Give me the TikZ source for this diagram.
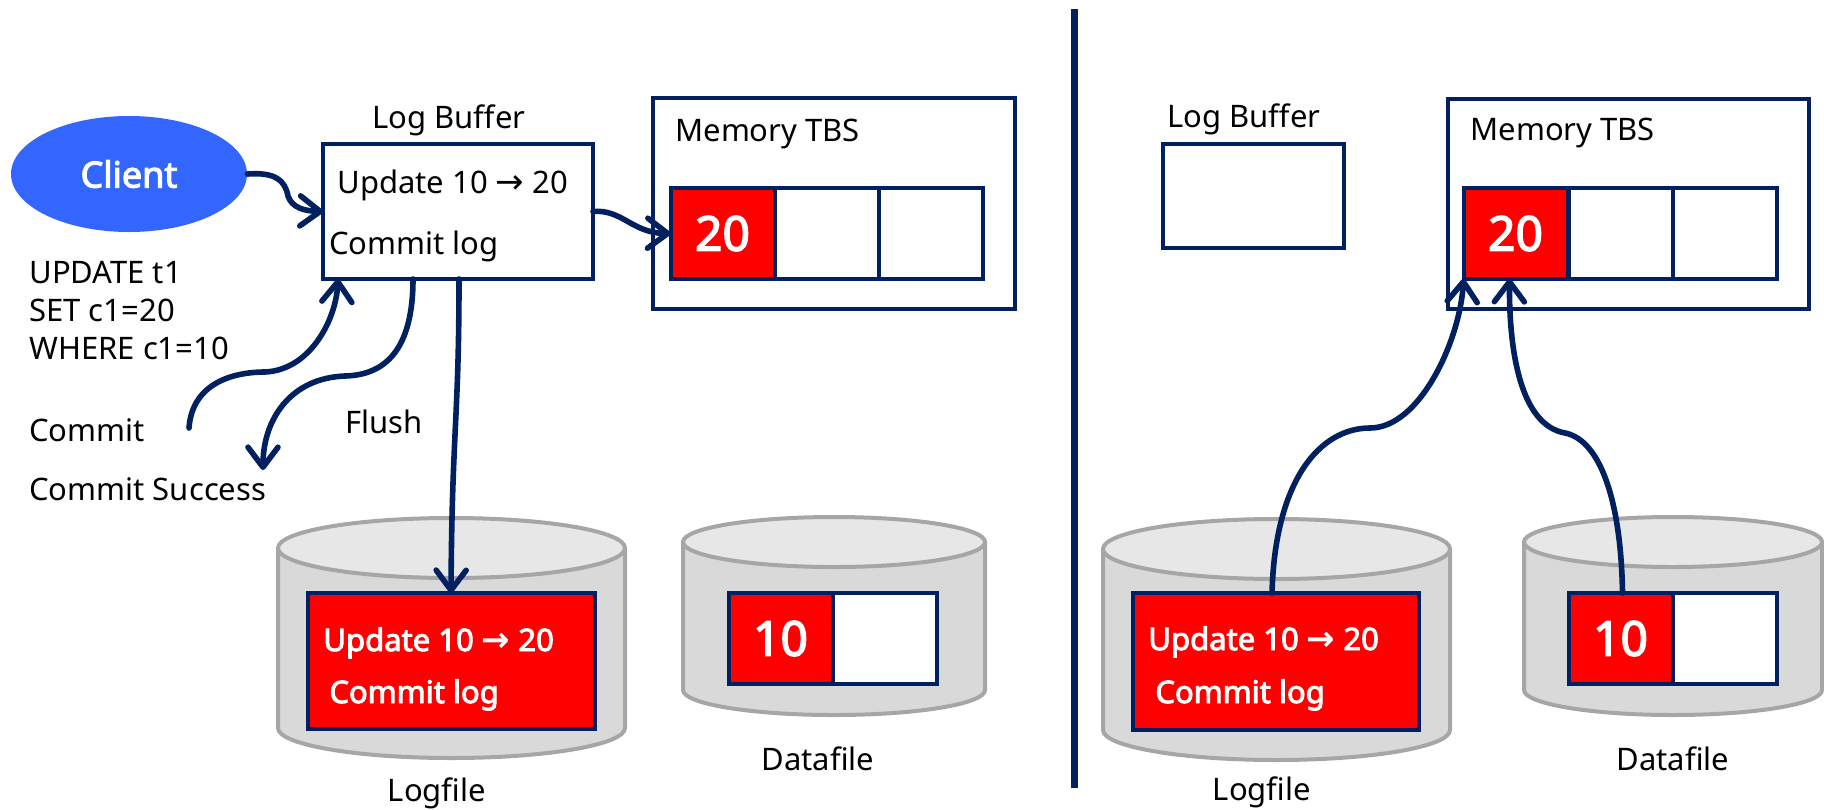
\documentclass[tikz,border=0pt]{standalone}
\usepackage{fontspec}
\setmainfont{Noto Sans}[BoldFont={Noto Sans},BoldFeatures={FakeBold=3}]
\newfontfamily\arrowfont{DejaVu Sans}
\usetikzlibrary{arrows.meta,shapes.geometric}
\definecolor{navy}{HTML}{002060}
\definecolor{clientblue}{HTML}{3366FF}
\definecolor{cylbody}{HTML}{D9D9D9}
\definecolor{cyltop}{HTML}{E7E7E7}
\definecolor{cylline}{HTML}{A6A6A6}
\newcommand\arw{{\arrowfont\fontsize{17}{18}\selectfont →}}
\newcommand\dbcyl[5]{%
  \pgfmathsetmacro\cxl{#1-#2}%
  \pgfmathsetmacro\cxr{#1+#2}%
  \pgfmathsetmacro\ckx{0.5523*#2}%
  \pgfmathsetmacro\cky{0.5523*#5}%
  \pgfmathsetmacro\crx{0.5*#2}%
  \pgfmathsetmacro\cry{0.5*#5}%
  \filldraw[fill=cylbody,draw=cylline,line width=2pt,line join=round]
    (\cxl,#3) -- (\cxl,#4)
    .. controls (\cxl,{#4+\cky}) and ({#1-\ckx},{#4+#5}) .. (#1,{#4+#5})
    .. controls ({#1+\ckx},{#4+#5}) and (\cxr,{#4+\cky}) .. (\cxr,#4)
    -- (\cxr,#3) -- cycle;
  \filldraw[fill=cyltop,draw=cylline,line width=2pt] (#1,#3) ellipse [x radius=\crx pt, y radius=\cry pt];
}
\tikzset{
  nbox/.style={draw=navy,line width=2pt,fill=white,inner sep=0pt,outer sep=0pt},
  cellw/.style={nbox,minimum width=52pt,minimum height=45.5pt},
  cellr/.style={cellw,fill=red,text=white,font=\fontsize{24}{28}\selectfont\bfseries},
  lbl/.style={inner sep=0pt,anchor=base west,font=\fontsize{15.5}{18}\selectfont},
  wlbl/.style={lbl,text=white,font=\fontsize{15.5}{18}\selectfont\bfseries},
  conn/.style={draw=navy,line width=2.8pt,line cap=round,-{Straight Barb[length=10pt,width=15pt,round]}},
}
\begin{document}
\begin{tikzpicture}[x=0.5pt,y=-0.5pt]
\useasboundingbox (0,0) rectangle (1824,809);

% ---------- cylinders ----------
\dbcyl{451.5}{173.5}{548}{728}{30}
\dbcyl{834}{151}{542}{690}{25}
\dbcyl{1276.5}{173.5}{549}{730}{30}
\dbcyl{1673}{149}{542}{690}{25}

% ---------- divider ----------
\coordinate (divtop) at (1074,9);
\coordinate (divbot) at (1074,788);
\draw[navy,line width=3.5pt] (divtop) -- (divbot);

% ---------- left half ----------
\node[ellipse,fill=clientblue,minimum width=118pt,minimum height=58pt,inner sep=0pt,
      text=white,font=\fontsize{18}{20}\selectfont\bfseries] (client) at (129,174) {Client};

\node[nbox,minimum width=135pt,minimum height=67.5pt] (lb1) at (458,211.5) {};
\node[lbl,anchor=base] (lb1title) at (449,128) {Log Buffer};
\node[lbl] (lb1t1) at (337,193) {Update 10 \arw{} 20};
\node[lbl] (lb1t2) at (329,254) {Commit log};

\node[nbox,minimum width=181pt,minimum height=105.5pt] (mem1) at (834,203.5) {};
\node[lbl] (mem1t) at (675,141) {Memory TBS};
\node[cellr] (m1a) at (722.5,233.5) {20};
\node[cellw] (m1b) at (826.5,233.5) {};
\node[cellw] (m1c) at (930.5,233.5) {};

\node[lbl] (sql1) at (29,283) {UPDATE t1};
\node[lbl] (sql2) at (29,321) {SET c1=20};
\node[lbl] (sql3) at (29,359) {WHERE c1=10};
\node[lbl] (commit) at (29,441) {Commit};
\node[lbl] (csucc) at (29,500) {Commit Success};
\node[lbl] (flush) at (345,433) {Flush};

\node[nbox,fill=red,minimum width=143.5pt,minimum height=68pt] (lf1) at (451.5,661) {};
\node[wlbl] (lf1t1) at (323,651) {Update 10 \arw{} 20};
\node[wlbl] (lf1t2) at (329,703) {Commit log};
\node[lbl,anchor=base] (lf1n) at (437,801) {Logfile};

\node[cellr] (df1a) at (780.5,638.5) {10};
\node[cellw] (df1b) at (885,638.5) {};
\node[lbl,anchor=base] (df1n) at (818,770) {Datafile};

% ---------- right half ----------
\node[lbl,anchor=base] (lb2title) at (1244,127) {Log Buffer};
\node[nbox,minimum width=90.5pt,minimum height=52pt] (lb2) at (1253.5,196) {};

\node[nbox,minimum width=180.5pt,minimum height=105pt] (mem2) at (1628.5,204) {};
\node[lbl] (mem2t) at (1470,140) {Memory TBS};
\node[cellr] (m2a) at (1515.5,233.5) {20};
\node[cellw] (m2b) at (1620.5,233.5) {};
\node[cellw] (m2c) at (1725,233.5) {};

\node[nbox,fill=red,minimum width=143pt,minimum height=68.5pt] (lf2) at (1276,661.5) {};
\node[wlbl] (lf2t1) at (1148,650) {Update 10 \arw{} 20};
\node[wlbl] (lf2t2) at (1155,703) {Commit log};
\node[lbl,anchor=base] (lf2n) at (1262,800) {Logfile};

\node[cellr] (df2a) at (1620.5,638.5) {10};
\node[cellw] (df2b) at (1725,638.5) {};
\node[lbl,anchor=base] (df2n) at (1673,770) {Datafile};

% ---------- connectors ----------
\draw[conn] (client.east) .. controls (275,172) and (285,180) .. (288,196)
            .. controls (292,208) and (305,211) .. (lb1.west);
\draw[conn] (lb1.east) .. controls (622,209) and (632,233) .. (m1a.west);
\coordinate (cmst) at (189,428);
\draw[conn] (cmst) .. controls (192,385) and (230,372) .. (265,372)
            .. controls (310,370) and (336,320) .. ([xshift=7.5pt]lb1.south west);
\coordinate (csend) at (263,470);
\draw[conn] ([xshift=45pt]lb1.south west) .. controls (413,350) and (385,375) .. (345,376)
            .. controls (290,378) and (263,420) .. (csend);
\draw[conn] ([xshift=68pt]lb1.south west) .. controls (459,420) and (452,430) .. ([xshift=71.5pt]lf1.north west);

\draw[conn] ([xshift=69.5pt]lf2.north west) .. controls (1275,480) and (1320,428) .. (1370,428)
            .. controls (1420,428) and (1460,340) .. (m2a.south west);
\draw[conn] ([xshift=1pt]df2a.north) .. controls (1621,500) and (1600,440) .. (1565,433)
            .. controls (1520,425) and (1509,350) .. ([xshift=-3pt]m2a.south);
\end{tikzpicture}
\end{document}
